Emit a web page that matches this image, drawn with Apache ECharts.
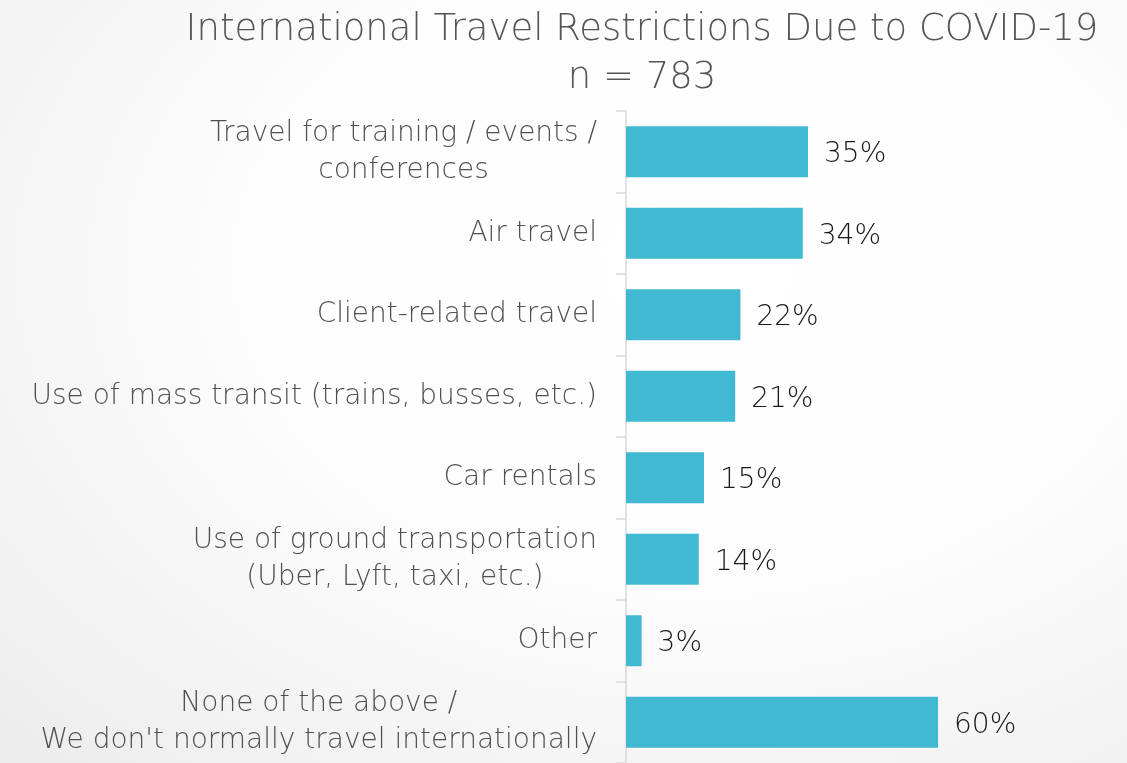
<!DOCTYPE html>
<html>
<head>
<meta charset="utf-8">
<script src="https://cdn.jsdelivr.net/npm/echarts@6/dist/echarts.min.js"></script>
<style>
  html, body { margin: 0; padding: 0; }
  #main {
    width: 1127px; height: 763px;
    background: radial-gradient(ellipse at 62% 35%, #ffffff 0%, #fdfdfd 45%, #ececec 100%);
  }
</style>
</head>
<body>
<div id="main"></div>
<script>
var categories = [
  'Travel for training / events /\nconferences',
  'Air travel',
  'Client-related travel',
  'Use of mass transit (trains, busses, etc.)',
  'Car rentals',
  'Use of ground transportation\n(Uber, Lyft, taxi, etc.)',
  'Other',
  "None of the above /\nWe don't normally travel internationally"
];
var values = [35, 34, 22, 21, 15, 14, 3, 60];
var titleText = 'International Travel Restrictions Due to COVID-19';
var subText = 'n = 783';

var FONT = "'DejaVu Sans', sans-serif";
var chart = echarts.init(document.getElementById('main'));

var option = {
  animation: false,
  graphic: [
    {
      type: 'text', x: 642, y: 12,
      style: { text: titleText, align: 'center', fill: '#555555', fontSize: 37, fontFamily: FONT, fontWeight: 200 }
    },
    {
      type: 'text', x: 642, y: 60,
      style: { text: subText, align: 'center', fill: '#555555', fontSize: 37, fontFamily: FONT, fontWeight: 200 }
    }
  ],
  grid: {
    left: 626,
    right: 85,
    top: 111,
    bottom: -5,
    containLabel: false
  },
  xAxis: {
    type: 'value',
    min: 0,
    max: 80,
    show: false
  },
  yAxis: {
    type: 'category',
    inverse: true,
    data: categories,
    axisLine: { lineStyle: { color: '#d9d9d9', width: 1.5 } },
    axisTick: { show: true, length: 10, lineStyle: { color: '#d9d9d9', width: 1.5 } },
    axisLabel: {
      margin: 29,
      formatter: function (v) {
        return v.split('\n').map(function (s) { return '{c|' + s + '}'; }).join('\n');
      },
      rich: {
        c: { align: 'center', fontSize: 28, lineHeight: 37, color: '#505050', fontFamily: FONT, fontWeight: 200 }
      }
    }
  },
  series: [{
    type: 'bar',
    data: values,
    barWidth: 51,
    itemStyle: { color: '#41b9d3' },
    label: {
      show: true,
      position: 'right',
      distance: 16,
      offset: [0, 3],
      formatter: '{c}%',
      fontSize: 28,
      color: '#1a1a1a',
      fontFamily: FONT,
      fontWeight: 200
    }
  }]
};
chart.setOption(option);
</script>
</body>
</html>
